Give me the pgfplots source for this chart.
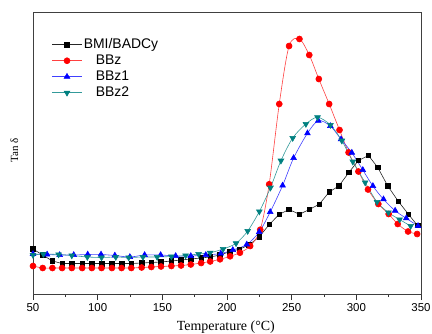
\documentclass[border=0pt]{standalone}
\usepackage{fontspec}
\setmainfont{Liberation Serif}
\newfontfamily\arial{Liberation Sans}
\usepackage{pgfplots}
\pgfplotsset{compat=1.18}
\definecolor{tealc}{RGB}{0,128,128}
\definecolor{redc}{RGB}{255,0,0}
\definecolor{bluec}{RGB}{0,0,255}
\begin{document}
\begin{tikzpicture}
\begin{axis}[
 scale only axis, width=388bp, height=282bp,
 xmin=50, xmax=350, ymin=0, ymax=282,
 xtick={50,100,...,350}, minor x tick num=1,
 xtick pos=bottom, ytick=\empty,
 tick align=outside,
 major tick length=6bp, minor tick length=3bp,
 axis line style={line width=0.8bp, black!75},
 every tick/.style={black!80, line width=0.8bp},
 ticklabel style={font=\arial\fontsize{11.5}{13}\selectfont},
 /pgf/number format/assume math mode=true,
 xlabel={Temperature (°C)}, ylabel={Tan δ},
 xlabel style={font=\fontsize{14}{16}\selectfont, at={(axis description cs:0.497,-0.117)}, anchor=center},
 ylabel style={font=\fontsize{11}{13}\selectfont, at={(axis description cs:-0.048,0.51)}, anchor=center},
 legend style={at={(axis description cs:0.04,0.92)}, anchor=north west, draw=none, fill=none,
   font=\arial\fontsize{14}{16}\selectfont, cells={anchor=west}, row sep=0bp,
   nodes={inner sep=1.5bp, text height=10bp, text depth=3bp}},
 legend image code/.code={\draw[mark repeat=2, mark phase=2] plot coordinates {(0bp,0bp) (15bp,0bp) (30bp,0bp)};},
 every axis plot/.append style={line width=0.6bp},
]
\coordinate (ll) at (rel axis cs:0,0);
\coordinate (ur) at (rel axis cs:1,1);
\addplot[black!85, mark=square*, mark size=2.3bp, mark options={solid, fill=black, draw=black}] coordinates {
(50,45) (57.5,39) (65,33) (72.5,30.5) (80,30.5) (88,30.5) (95.5,30.5) (103,30.5) (111,30.5) (118.5,30.5) (126,30.5)
(134,31) (141.5,31.5) (149,32) (157,33) (164.5,34) (172,35) (180,36) (187,37) (194.6,39) (202,42.3) (209.5,44.7)
(217,49) (225,57.3) (232.7,69.5) (240.4,79.7) (248,84.5) (256,79.7) (263.6,84.5) (271.4,89.8) (279,102) (286.5,108)
(294.2,121.5) (301.6,133.5) (309.4,138.5) (316.6,126.5) (324.3,108) (332.4,92.8) (340.3,79.7) (347.3,68.5)
};
\addplot[redc!75, smooth, tension=0.5, mark=*, mark size=3bp, mark options={fill=redc, draw=redc}] coordinates {
(50,28) (57.5,26) (65,26) (72.5,26) (80,26) (88,26) (95.5,26) (103,26) (111,26) (118.5,26) (126,26)
(134,26.5) (141.5,27) (149,27.5) (157,28) (164.5,28.5) (172,29.5) (180,31) (187,32.5) (194.6,34.7) (202.4,37.7)
(210,41.3) (217.9,48) (225.7,64.3) (232.6,109.7) (240.4,190) (248,248) (256,255) (263.6,239) (271,215) (279,190)
(287,164) (294,141.5) (301.6,122.5) (309,104.5) (317,90) (325,80) (332,70) (340,62.5) (347,60)
};
\addplot[bluec!75, smooth, tension=0.5, mark=triangle*, mark size=3.3bp, mark options={fill=bluec, draw=bluec}] coordinates {
(50,40) (60.9,39.5) (70.6,39) (81.5,39) (92.3,39.5) (102.6,39.5) (113.3,38.5) (124.9,37) (136.3,39) (148.7,39)
(160.3,38) (172,38) (183.6,39) (195.2,40.5) (204.5,44) (215.3,49.5) (224.9,62) (233.4,82) (243,108.5) (251.5,136)
(262.2,160.7) (270.6,173.3) (279.9,168) (288.2,154.7) (296.5,141.3) (305,124) (312.8,108) (321,94.7) (330,83.3)
(338.6,75.7) (347.7,68)
};
\addplot[tealc!80, smooth, tension=0.5, mark=triangle*, mark size=3.3bp, mark options={fill=tealc, draw=tealc, rotate=180}] coordinates {
(50,39) (58,40) (69.8,39.5) (80,38.5) (92,37) (103,36.5) (114,37) (124,36.5) (135,37) (146,37) (157,37.5) (168,38.5)
(178,40) (187,41.3) (197,45) (207,50.7) (216,63) (225,82.5) (233.6,106.3) (241.7,133.3) (250.8,156) (261,170)
(270,176.7) (280,169) (288.8,153.3) (297.3,132.3) (306.8,111.5) (316,92) (324.8,81.5) (333.4,74.5) (342,68)
};
\legend{BMI/BADCy, {\hspace*{12bp}BBz}, {\hspace*{12bp}BBz1}, {\hspace*{12bp}BBz2}}
\end{axis}
\pgfresetboundingbox
\path[use as bounding box] ([shift={(-33bp,-40bp)}]ll) rectangle ([shift={(11bp,12bp)}]ur);
\end{tikzpicture}
\end{document}
